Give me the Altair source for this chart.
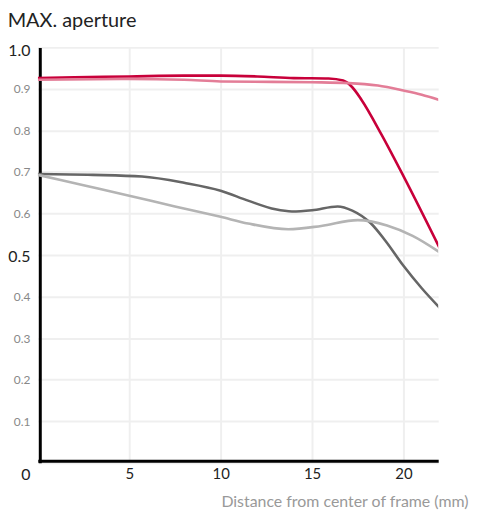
import pandas as pd
import altair as alt

# MTF-style curves at max aperture
red_x = [0, 2, 5, 8, 10, 12, 14, 15.9, 16.7, 17.2, 17.7, 18.8, 20, 22]
red_y = [0.926, 0.928, 0.930, 0.932, 0.932, 0.930, 0.926, 0.925, 0.920, 0.904, 0.874, 0.79, 0.69, 0.515]

pink_x = [0, 5, 8, 10, 15, 17, 18.6, 20, 21, 22]
pink_y = [0.922, 0.924, 0.922, 0.918, 0.916, 0.914, 0.908, 0.896, 0.886, 0.873]

dark_x = [0, 3, 5.7, 8, 10, 11.5, 13, 13.9, 15, 16.4, 17.2, 18.2, 19, 20, 21, 22]
dark_y = [0.695, 0.693, 0.689, 0.674, 0.655, 0.631, 0.610, 0.605, 0.608, 0.617, 0.607, 0.577, 0.535, 0.474, 0.42, 0.372]

light_x = [0, 2.5, 5, 7.5, 10, 11.5, 13.7, 15.5, 17.5, 19.1, 20.5, 22]
light_y = [0.693, 0.668, 0.643, 0.617, 0.592, 0.576, 0.562, 0.570, 0.584, 0.571, 0.546, 0.506]

series = ["red", "pink", "dark", "light"]
colors = ["#c8003a", "#e37d97", "#666666", "#b4b4b4"]

rows = []
for name, xs, ys in [("red", red_x, red_y), ("pink", pink_x, pink_y),
                     ("dark", dark_x, dark_y), ("light", light_x, light_y)]:
    for x, y in zip(xs, ys):
        rows.append({"series": name, "x": x, "y": y})
df = pd.DataFrame(rows)

big = "datum.value == 1 || datum.value == 0.5 || datum.value == 0"

chart = alt.Chart(df).mark_line(interpolate="monotone", strokeWidth=2.6, clip=True).encode(
    x=alt.X("x:Q", scale=alt.Scale(domain=[0, 21.9], nice=False),
            axis=alt.Axis(values=[5, 10, 15, 20], title="Distance from center of frame (mm)",
                          offset=-2, labelFontSize=15, labelColor="#222", labelPadding=6,
                          titleColor="#999", titleFontSize=16, titleFontWeight="normal",
                          titleAlign="right", titleAnchor="start", titleX=433, titleY=46,
                          titleBaseline="alphabetic")),
    y=alt.Y("y:Q", scale=alt.Scale(domain=[0, 1], nice=False),
            axis=alt.Axis(values=[0, 0.1, 0.2, 0.3, 0.4, 0.5, 0.6, 0.7, 0.8, 0.9, 1.0],
                          offset=-2,
                          labelExpr="datum.value == 0 ? '0' : format(datum.value, '.1f')",
                          labelFontSize={"condition": {"test": big, "value": 16}, "value": 12},
                          labelColor={"condition": {"test": big, "value": "#222"}, "value": "#888"},
                          labelOffset={"condition": [{"test": "datum.value == 0", "value": 12},
                                                     {"test": "datum.value == 1", "value": 3},
                                                     {"test": "datum.value == 0.5", "value": 2}],
                                       "value": 0},
                          labelPadding=10, title=None)),
    color=alt.Color("series:N", scale=alt.Scale(domain=series, range=colors), legend=None),
    order=alt.Order("x:Q"),
).properties(
    width=403,
    height=418,
    title=alt.TitleParams("MAX. aperture", anchor="start", offset=12,
                          fontSize=20, fontWeight="normal", color="#222", font="Lato"),
    autosize=alt.AutoSizeParams(type="none"),
    padding={"left": 30, "top": 38, "right": 32, "bottom": 48},
).configure(
    font="Lato",
).configure_axis(
    grid=True, gridColor="#efefef", gridWidth=2,
    domainColor="#000", domainWidth=3, ticks=False, labelFont="Lato", titleFont="Lato",
).configure_view(
    stroke=None,
)

chart.save("out.html", embed_options={"renderer": "svg", "actions": False})
